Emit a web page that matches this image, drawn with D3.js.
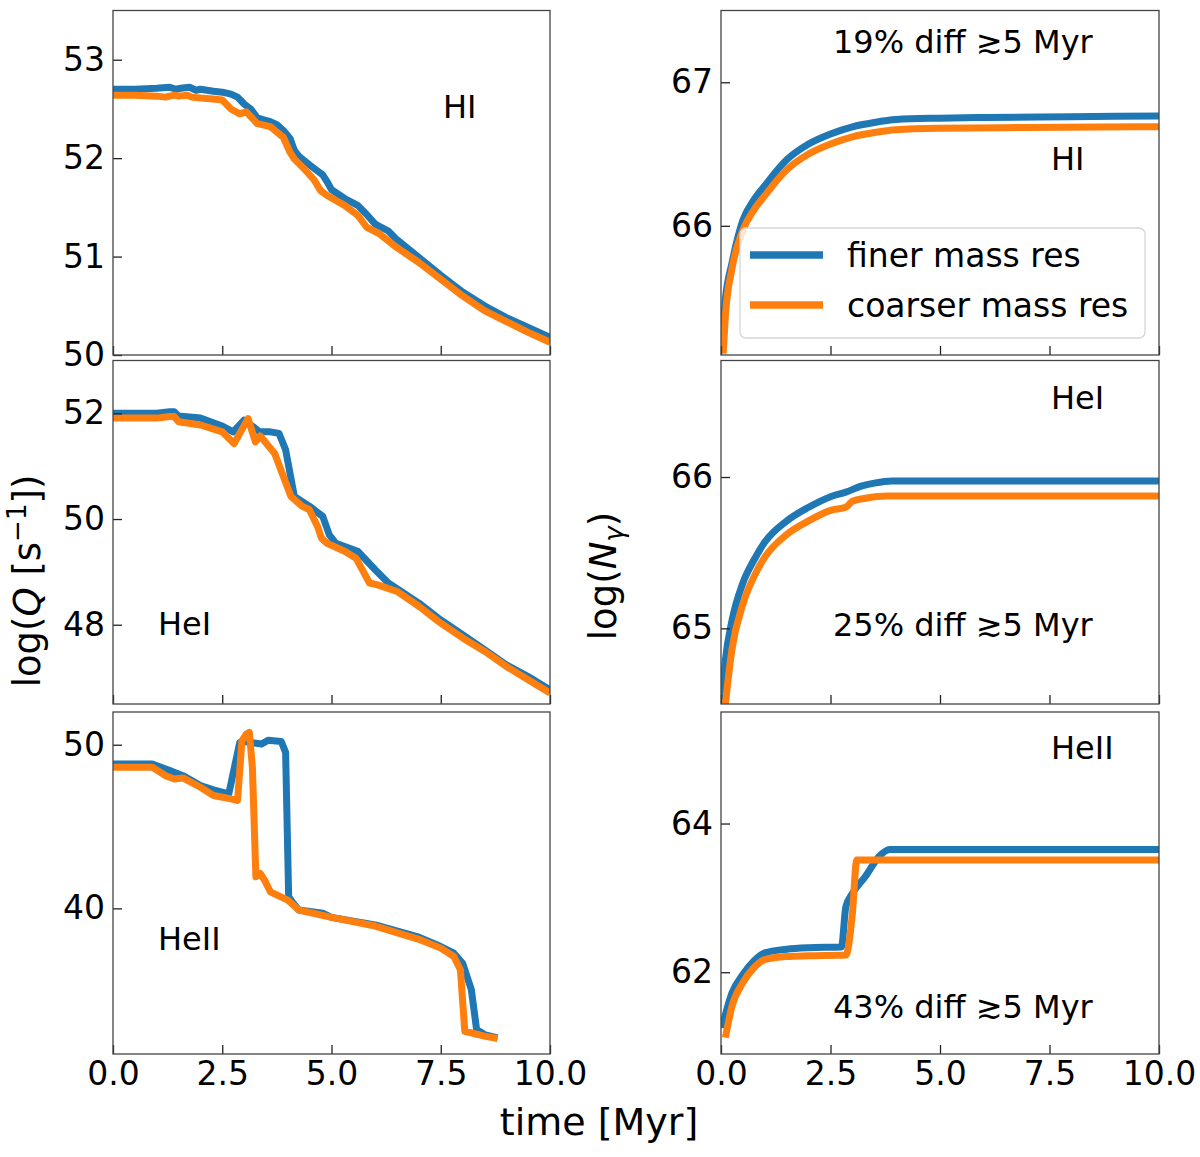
<!DOCTYPE html>
<html>
<head>
<meta charset="utf-8">
<script src="https://d3js.org/d3.v7.min.js"></script>
<style>
  body { margin: 0; background: #fff; }
  svg text { font-family: "DejaVu Sans", sans-serif; fill: #000; }
</style>
</head>
<body>
<svg id="chart"></svg>
<script>
// time axis ticks
let timeTicks = [0, 2.5, 5, 7.5, 10];

// log Q, HI
let tQHIfine = [0, 0.5, 1.0, 1.3, 1.45, 1.55, 1.75, 1.9, 2.0, 2.3, 2.5, 2.7, 2.85, 3.0, 3.15, 3.3, 3.45, 3.6, 3.75, 3.9, 4.05, 4.15, 4.25, 4.5, 4.65, 4.8, 4.9, 5.0, 5.3, 5.6, 5.8, 6.0, 6.3, 6.5, 7.0, 7.5, 8.0, 8.5, 9.0, 9.5, 10];
let qHIfine = [52.70, 52.70, 52.71, 52.72, 52.70, 52.71, 52.72, 52.69, 52.70, 52.68, 52.67, 52.65, 52.62, 52.55, 52.50, 52.41, 52.39, 52.37, 52.34, 52.28, 52.20, 52.08, 52.02, 51.93, 51.88, 51.83, 51.76, 51.68, 51.59, 51.52, 51.43, 51.33, 51.26, 51.17, 50.99, 50.81, 50.64, 50.50, 50.38, 50.28, 50.18];
let tQHIcoarse = [0, 0.5, 1.0, 1.2, 1.4, 1.5, 1.7, 1.8, 2.0, 2.3, 2.5, 2.7, 2.9, 3.05, 3.2, 3.3, 3.6, 3.9, 4.05, 4.15, 4.4, 4.6, 4.75, 4.9, 5.3, 5.6, 5.8, 6.1, 6.5, 7.0, 7.5, 8.0, 8.5, 9.0, 9.5, 10];
let qHIcoarse = [52.64, 52.64, 52.63, 52.62, 52.64, 52.63, 52.64, 52.62, 52.61, 52.60, 52.59, 52.50, 52.45, 52.47, 52.40, 52.35, 52.32, 52.21, 52.06, 51.99, 51.88, 51.78, 51.67, 51.62, 51.52, 51.42, 51.30, 51.23, 51.09, 50.94, 50.77, 50.60, 50.45, 50.34, 50.23, 50.13];

// log Q, HeI
let tQHeIfine = [0, 1.0, 1.3, 1.4, 1.5, 2.0, 2.5, 2.75, 3.0, 3.2, 3.35, 3.6, 3.8, 3.95, 4.15, 4.5, 4.8, 4.95, 5.1, 5.6, 6.0, 6.3, 7.0, 7.5, 8.0, 8.5, 9.0, 9.5, 10];
let qHeIfine = [52.00, 52.00, 52.03, 52.03, 51.95, 51.91, 51.76, 51.65, 51.87, 51.75, 51.65, 51.65, 51.62, 51.31, 50.43, 50.24, 50.05, 49.70, 49.54, 49.39, 49.04, 48.79, 48.41, 48.09, 47.81, 47.53, 47.24, 47.02, 46.77];
let tQHeIcoarse = [0, 1.0, 1.3, 1.4, 1.5, 2.0, 2.5, 2.77, 3.09, 3.26, 3.37, 3.7, 4.07, 4.33, 4.49, 4.68, 4.77, 4.9, 5.3, 5.56, 5.87, 6.04, 6.5, 7.0, 7.5, 8.0, 8.5, 9.0, 9.5, 10];
let qHeIcoarse = [51.91, 51.91, 51.94, 51.94, 51.84, 51.78, 51.65, 51.43, 51.90, 51.46, 51.57, 51.24, 50.43, 50.24, 50.18, 49.86, 49.64, 49.54, 49.39, 49.26, 48.79, 48.76, 48.63, 48.35, 48.03, 47.75, 47.50, 47.21, 46.96, 46.71];

// log Q, HeII
let tQHeIIfine = [0, 0.9, 1.3, 1.6, 2.0, 2.3, 2.65, 2.9, 3.0, 3.4, 3.55, 3.85, 3.95, 4.02, 4.1, 4.25, 4.8, 5.0, 6.0, 7.0, 7.5, 7.8, 8.0, 8.2, 8.32, 8.5, 8.8];
let qHeIIfine = [48.82, 48.82, 48.42, 48.11, 47.50, 47.24, 47.00, 50.14, 50.20, 50.04, 50.28, 50.20, 49.53, 40.71, 40.40, 39.90, 39.70, 39.45, 38.99, 38.24, 37.67, 37.26, 36.65, 35.03, 32.60, 32.29, 32.09];
let tQHeIIcoarse = [0, 0.9, 1.2, 1.4, 1.6, 2.0, 2.3, 2.7, 2.85, 2.95, 3.05, 3.12, 3.19, 3.27, 3.37, 3.47, 3.6, 4.0, 4.25, 5.0, 6.0, 7.0, 7.5, 7.8, 7.95, 8.05, 8.5, 8.8];
let qHeIIcoarse = [48.62, 48.62, 48.11, 47.91, 47.97, 47.40, 46.90, 46.69, 46.59, 50.24, 50.65, 50.75, 48.62, 41.93, 42.13, 41.72, 41.01, 40.50, 39.90, 39.45, 38.92, 38.11, 37.57, 37.06, 36.25, 32.49, 32.19, 32.05];

// log N_gamma, HI
let tNHIfine = [0.02, 0.1, 0.25, 0.5, 0.75, 1.0, 1.5, 2, 2.5, 3, 3.5, 4, 5, 6, 8, 10];
let nHIfine = [65.19, 65.49, 65.74, 66.04, 66.18, 66.28, 66.46, 66.57, 66.64, 66.69, 66.72, 66.74, 66.75, 66.755, 66.76, 66.765];
let tNHIcoarse = [0.05, 0.1, 0.25, 0.5, 0.75, 1.0, 1.5, 2, 2.5, 3, 3.5, 4, 5, 7, 10];
let nHIcoarse = [65.11, 65.37, 65.70, 65.97, 66.11, 66.21, 66.39, 66.50, 66.57, 66.62, 66.65, 66.67, 66.68, 66.685, 66.69];

// log N_gamma, HeI
let tNHeIfine = [0.02, 0.1, 0.25, 0.5, 0.75, 1, 1.5, 2, 2.5, 2.85, 3.2, 3.5, 3.9, 10];
let nHeIfine = [64.53, 64.79, 65.05, 65.30, 65.45, 65.57, 65.71, 65.80, 65.87, 65.90, 65.94, 65.96, 65.974, 65.974];
let tNHeIcoarse = [0.1, 0.25, 0.5, 0.75, 1, 1.5, 2, 2.5, 2.85, 3.0, 3.3, 3.8, 10];
let nHeIcoarse = [64.50, 64.86, 65.16, 65.34, 65.47, 65.62, 65.71, 65.78, 65.80, 65.84, 65.86, 65.875, 65.875];

// log N_gamma, HeII
let tNHeIIfine = [0.02, 0.25, 0.5, 0.75, 1.0, 1.5, 2, 2.75, 2.85, 3.0, 3.3, 3.6, 3.85, 10];
let nHeIIfine = [61.25, 61.72, 61.97, 62.15, 62.26, 62.31, 62.33, 62.34, 62.88, 63.06, 63.29, 63.55, 63.65, 63.65];
let tNHeIIcoarse = [0.1, 0.25, 0.5, 0.75, 1.0, 1.5, 2, 2.85, 3.0, 3.1, 10];
let nHeIIcoarse = [61.12, 61.54, 61.86, 62.06, 62.17, 62.21, 62.22, 62.23, 62.79, 63.51, 63.51];

let seriesNames = ['finer mass res', 'coarser mass res'];
let seriesColors = ['#1f77b4', '#ff7f0e'];

let svgWidth = 1200;
let svgHeight = 1157;

let svg = d3.select('#chart')
    .attr('width', svgWidth)
    .attr('height', svgHeight);

let colX = [[113, 550], [721, 1159]];
let rowY = [[10.5, 355], [360.5, 704], [712, 1054]];

let panels = [
    { col: 0, row: 0, domain: [50, 53.5], ticks: [50, 51, 52, 53], smooth: false,
      fine: [tQHIfine, qHIfine], coarse: [tQHIcoarse, qHIcoarse],
      labels: [{ text: 'HI', x: 443, y: 118, size: 32 }] },
    { col: 0, row: 1, domain: [46.5, 53], ticks: [48, 50, 52], smooth: false,
      fine: [tQHeIfine, qHeIfine], coarse: [tQHeIcoarse, qHeIcoarse],
      labels: [{ text: 'HeI', x: 158, y: 635, size: 32 }] },
    { col: 0, row: 2, domain: [31.1, 52], ticks: [40, 50], smooth: false,
      fine: [tQHeIIfine, qHeIIfine], coarse: [tQHeIIcoarse, qHeIIcoarse],
      labels: [{ text: 'HeII', x: 158, y: 950, size: 32 }] },
    { col: 1, row: 0, domain: [65.1, 67.5], ticks: [66, 67], smooth: true,
      fine: [tNHIfine, nHIfine], coarse: [tNHIcoarse, nHIcoarse],
      labels: [{ text: '19% diff \u22735 Myr', x: 833, y: 53, size: 32 },
               { text: 'HI', x: 1051, y: 170, size: 32 }] },
    { col: 1, row: 1, domain: [64.5, 66.77], ticks: [65, 66], smooth: true,
      fine: [tNHeIfine, nHeIfine], coarse: [tNHeIcoarse, nHeIcoarse],
      labels: [{ text: 'HeI', x: 1051, y: 409, size: 32 },
               { text: '25% diff \u22735 Myr', x: 833, y: 636, size: 32 }] },
    { col: 1, row: 2, domain: [60.9, 65.5], ticks: [62, 64], smooth: true,
      fine: [tNHeIIfine, nHeIIfine], coarse: [tNHeIIcoarse, nHeIIcoarse],
      labels: [{ text: 'HeII', x: 1051, y: 759, size: 32 },
               { text: '43% diff \u22735 Myr', x: 833, y: 1018, size: 32 }] }
];

panels.forEach(function (p, i) {
    let x0 = colX[p.col][0], x1 = colX[p.col][1];
    let y0 = rowY[p.row][0], y1 = rowY[p.row][1];

    let xScale = d3.scaleLinear().domain([0, 10]).range([x0, x1]);
    let yScale = d3.scaleLinear().domain(p.domain).range([y1, y0]);

    svg.append('clipPath')
        .attr('id', 'clip' + i)
        .append('rect')
        .attr('x', x0).attr('y', y0)
        .attr('width', x1 - x0).attr('height', y1 - y0);

    let line = d3.line()
        .x(function (d) { return xScale(d[0]); })
        .y(function (d) { return yScale(d[1]); })
        .curve(p.smooth ? d3.curveMonotoneX : d3.curveLinear);

    [p.fine, p.coarse].forEach(function (s, k) {
        let pts = s[0].map(function (t, j) { return [t, s[1][j]]; });
        svg.append('path')
            .datum(pts)
            .attr('clip-path', 'url(#clip' + i + ')')
            .attr('d', line)
            .attr('fill', 'none')
            .attr('stroke', seriesColors[k])
            .attr('stroke-width', 7)
            .attr('stroke-linejoin', 'round')
            .attr('stroke-linecap', 'butt');
    });

    let yAxis = d3.axisLeft(yScale)
        .tickValues(p.ticks)
        .tickFormat(d3.format('d'))
        .tickSizeInner(-9)
        .tickSizeOuter(0)
        .tickPadding(8);

    let xAxis = d3.axisBottom(xScale)
        .tickValues(timeTicks)
        .tickFormat(p.row === 2 ? d3.format('.1f') : '')
        .tickSizeInner(-9)
        .tickSizeOuter(0)
        .tickPadding(8);

    let gy = svg.append('g')
        .attr('transform', `translate(${x0},0)`)
        .call(yAxis);
    let gx = svg.append('g')
        .attr('transform', `translate(0,${y1})`)
        .call(xAxis);

    [gx, gy].forEach(function (g) {
        g.select('.domain').remove();
        g.selectAll('.tick line').attr('stroke', '#222').attr('stroke-width', 1.3);
        g.selectAll('.tick text')
            .attr('font-family', '"DejaVu Sans", sans-serif')
            .attr('font-size', 33)
            .attr('fill', '#000');
    });

    svg.append('rect')
        .attr('x', x0).attr('y', y0)
        .attr('width', x1 - x0).attr('height', y1 - y0)
        .attr('fill', 'none')
        .attr('stroke', '#444')
        .attr('stroke-width', 1.3);

    p.labels.forEach(function (l) {
        svg.append('text')
            .attr('x', l.x)
            .attr('y', l.y)
            .attr('font-size', l.size)
            .text(l.text);
    });
});

// legend in the top right panel
let legend = svg.append('g');
legend.append('rect')
    .attr('x', 740).attr('y', 228)
    .attr('width', 405).attr('height', 110)
    .attr('rx', 6)
    .attr('fill', 'rgba(255,255,255,0.8)')
    .attr('stroke', '#d6d6d6')
    .attr('stroke-width', 1.3);

seriesNames.forEach(function (name, k) {
    let ly = 255 + k * 50;
    legend.append('line')
        .attr('x1', 750).attr('x2', 823)
        .attr('y1', ly).attr('y2', ly)
        .attr('stroke', seriesColors[k])
        .attr('stroke-width', 7.5);
    legend.append('text')
        .attr('x', 847)
        .attr('y', ly + 12)
        .attr('font-size', 33)
        .text(name);
});

// axis labels
let yLabelLeft = svg.append('text')
    .attr('transform', 'translate(40,581) rotate(-90)')
    .attr('text-anchor', 'middle')
    .attr('font-size', 37);
yLabelLeft.append('tspan').text('log(');
yLabelLeft.append('tspan').attr('font-style', 'italic').text('Q');
yLabelLeft.append('tspan').text(' [s');
yLabelLeft.append('tspan').attr('dy', -14).attr('font-size', 26).text('\u22121');
yLabelLeft.append('tspan').attr('dy', 14).text('])');

let yLabelRight = svg.append('text')
    .attr('transform', 'translate(616,576) rotate(-90)')
    .attr('text-anchor', 'middle')
    .attr('font-size', 37);
yLabelRight.append('tspan').text('log(');
yLabelRight.append('tspan').attr('font-style', 'italic').text('N');
yLabelRight.append('tspan').attr('dy', 7).attr('font-size', 26).attr('font-style', 'italic').text('\u03b3');
yLabelRight.append('tspan').attr('dy', -7).text(')');

svg.append('text')
    .attr('x', 599)
    .attr('y', 1135)
    .attr('text-anchor', 'middle')
    .attr('font-size', 38)
    .text('time [Myr]');
</script>
</body>
</html>
